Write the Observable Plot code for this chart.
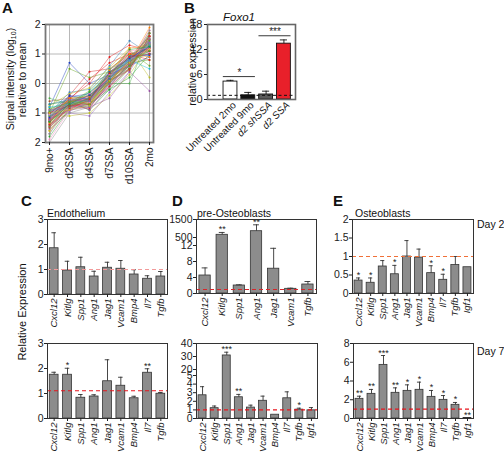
<!DOCTYPE html>
<html><head><meta charset="utf-8">
<script src="https://cdn.jsdelivr.net/npm/d3@7"></script>
<script src="https://cdn.jsdelivr.net/npm/@observablehq/plot@0.6"></script>
<style>
body{margin:0;background:#fff;}
#root{position:relative;width:504px;height:456px;overflow:hidden;background:#fff;}
#root svg{position:absolute;left:0;top:0;}
</style></head><body><div id="root"></div>
<script>
const W = 504, H = 456;
const FONT = '"Liberation Sans", Arial, Helvetica, sans-serif';
const root = document.getElementById("root");

// ---------- Panel A data ----------
const aConditions = ["9mo+", "d2SSA", "d4SSA", "d7SSA", "d10SSA", "2mo"];
const aProfiles = [
  [-1.0,-0.6,-0.5,0.2,0.7,1.2], [-1.2,-0.7,-0.6,0.1,0.8,1.3], [-0.9,-0.5,-0.4,0.3,0.9,1.1],
  [-1.5,-0.8,-0.7,0.0,0.6,1.4], [-1.3,-0.7,-0.5,0.3,1.0,1.2], [-1.1,-0.6,-0.3,0.4,0.8,1.0],
  [-0.6,-0.5,-0.6,0.1,0.5,1.5], [-1.9,-0.9,-0.7,-0.1,0.7,1.8], [-1.7,-0.8,-0.6,0.2,0.9,1.6],
  [-0.8,0.7,0.0,0.3,0.6,0.9], [-1.0,0.5,0.2,0.4,0.7,0.8], [-1.2,-0.4,0.4,0.5,1.0,1.1],
  [-1.4,-1.0,-1.1,-0.3,0.4,1.5], [-1.1,-1.1,-1.0,-0.4,0.3,1.3], [-0.7,-0.6,-0.9,-0.2,0.2,1.0],
  [-1.3,-0.5,0.0,0.9,1.3,1.1], [-1.0,-0.3,-0.2,0.6,1.45,1.0], [-1.2,-0.6,-0.4,0.0,0.0,1.7],
  [-0.9,-0.7,-0.8,-0.5,0.4,-0.25], [-1.6,-0.9,-0.5,0.2,0.7,1.9], [-1.05,-0.65,-0.55,0.15,0.75,1.25],
  [-1.25,-0.75,-0.65,0.05,0.65,1.35], [-0.95,-0.55,-0.45,0.25,0.85,1.15], [-1.35,-0.85,-0.75,-0.05,0.55,1.45],
  [-1.15,-0.45,-0.35,0.35,0.95,0.95], [-0.85,-0.65,-0.25,0.45,1.1,0.6], [-1.45,-0.75,-0.85,0.1,0.8,1.6],
  [-1.55,-0.95,-0.6,0.3,0.6,1.3], [-0.75,-0.35,-0.15,0.55,1.2,0.2], [-1.8,-0.85,-0.7,-0.2,0.5,1.7],
  [-1.0,-0.55,0.15,0.7,1.0,0.8], [-1.1,-0.8,-0.45,0.2,0.9,1.4], [-0.5,-0.7,-0.6,0.0,0.6,1.2],
  [-1.3,-0.6,-0.9,-0.1,0.7,1.5], [-1.2,-0.5,-0.7,0.3,1.2,1.3], [-0.95,-0.75,-0.5,0.5,0.8,0.5],
  [-1.4,-0.65,-0.4,0.1,0.45,1.6], [-1.15,-0.9,-0.35,0.25,1.05,1.05], [-2.0,-1.0,-0.8,0.0,0.6,1.8],
  [-1.05,-0.4,-0.55,0.4,0.85,1.25],
  [-1.1,-0.7,-0.7,0.2,0.6,1.3], [-1.25,-0.6,-0.55,0.25,0.9,1.2], [-0.9,-0.8,-0.6,0.1,0.7,1.4],
  [-1.6,-0.7,-0.65,0.05,0.8,1.5], [-1.3,-0.8,-0.5,0.35,0.75,1.1], [-1.0,-0.75,-0.7,-0.1,0.5,1.6],
  [-0.7,-0.55,-0.5,0.3,0.9,1.0], [-1.45,-0.6,-0.6,0.15,0.95,1.35], [-1.2,-0.9,-0.8,0.0,0.65,1.5],
  [-1.35,-0.5,-0.45,0.45,1.0,0.9], [-0.8,-0.7,-0.55,0.2,0.8,1.3], [-1.5,-0.75,-0.5,0.1,0.7,1.7],
  [-1.05,-0.85,-0.65,0.3,1.1,1.2], [-1.7,-0.6,-0.75,-0.15,0.55,1.55], [-1.15,-0.7,-0.4,0.15,0.85,1.25],
  [-0.95,-0.6,-0.7,0.05,0.6,1.45], [-1.4,-0.85,-0.55,0.35,0.9,1.0], [-1.25,-0.55,-0.6,0.2,0.75,1.35],
  [-1.0,-0.9,-0.75,0.1,0.7,1.15], [-1.3,-0.7,-0.3,0.25,1.15,1.25]
];
const aTicks = [-2, -1, 0, 1, 2];

// ---------- Panel B data ----------
const bLabels = ["Untreated 2mo", "Untreated 9mo", "d2 shSSA", "d2 SSA"];
const bValues = [4.3, 1.0, 1.2, 13.4];
const bErrors = [0.3, 0.7, 0.8, 0.9];
const bSigFrom = [0, 2];
const bSigTo = [1, 3];
const bSigLevel = [5.5, 15.3];
const bSigText = ["*", "***"];
const bRef = 1.0;
const bTicks = [0, 6, 12, 18];

// ---------- Panel C data ----------
const cGenes = ["Cxcl12","Kitlg","Spp1","Ang1","Jag1","Vcam1","Bmp4","Il7","Tgfb"];
const cDay2 = [1.85,0.96,1.09,0.72,1.07,1.03,0.8,0.63,0.72];
const cDay2Err = [0.62,0.37,0.4,0.21,0.22,0.33,0.19,0.12,0.2];
const cDay2Sig = ["","","","","","","","",""];
const cDay2Ref = 1.0;
const cDay7 = [1.75,1.75,0.83,0.88,1.49,1.31,0.81,1.83,0.99];
const cDay7Err = [0.1,0.26,0.13,0.07,0.86,0.34,0.08,0.16,0.05];
const cDay7Sig = ["","*","","","","","","**",""];
const cDay7Ref = 1.11;
const cTicks = [0, 1, 2, 3];

// ---------- Panel D data ----------
const dGenes2 = ["Cxcl12","Kitlg","Spp1","Ang1","Jag1","Vcam1","Tgfb"];
const dDay2 = [4.5, 650, 2.0, 850, 6.2, 1.17, 2.25];
const dDay2Err = [1.9, 130, 0.17, 355, 5.1, 0.16, 0.75];
const dDay2Sig = ["","**","","**","","",""];
const dDay2Ref = 1.0;
const dDay2Ticks = [0, 4, 8, 12, 500, 1500];
const dGenes7 = ["Cxcl12","Kitlg","Spp1","Ang1","Jag1","Vcam1","Bmp4","Il7","Tgfb","Igf1"];
const dDay7 = [2.7, 1.2, 30.8, 2.47, 1.27, 2.06, 0.44, 2.35, 1.03, 0.95];
const dDay7Err = [1.0, 0.25, 2.5, 0.33, 0.28, 0.54, 0, 0.75, 0.17, 0.32];
const dDay7Sig = ["","","***","**","","","","","*",""];
const dDay7Ref = 1.0;
const dDay7Ticks = [0, 1, 2, 3, 4, 5, 20, 30, 40];

// ---------- Panel E data ----------
const eGenes = ["Cxcl12","Kitlg","Spp1","Ang1","Jag1","Vcam1","Bmp4","Il7","Tgfb","Igf1"];
const eDay2 = [0.35,0.29,0.73,0.52,1.0,0.97,0.55,0.37,0.77,0.71];
const eDay2Err = [0.07,0.13,0.16,0.24,0.43,0.23,0.2,0.15,0.23,0];
const eDay2Sig = ["*","*","","*","","","*","*","",""];
const eDay2Ref = 1.0;
const eDay2Ticks = [0, 0.5, 1.0, 1.5, 2.0];
const eDay7 = [2.1,2.63,5.72,2.74,2.95,3.06,2.31,1.99,1.46,0.05];
const eDay7Err = [0.28,0.47,1.0,0.53,0.64,0.82,0.68,0.46,0.25,0];
const eDay7Sig = ["**","**","***","**","*","*","*","*","*","**"];
const eDay7Ref = 1.0;
const eDay7Ticks = [0, 2, 4, 6, 8];

// ---------- styles ----------
const aPalette = ["#e41a1c","#377eb8","#4daf4a","#984ea3","#ff7f00","#17becf","#a65628",
  "#f781bf","#8a8a8a","#1f3fbf","#66a61e","#d62728","#9467bd","#bcbd22","#2ca02c"];
const bFills = ["#ffffff", "#111111", "#5a5a5a", "#e8202a"];

function place(frame, opts) {
  const [x0, y0, x1, y1] = frame;
  const svg = Plot.plot({
    width: W, height: H,
    marginLeft: x0, marginRight: W - x1, marginTop: y0, marginBottom: H - y1,
    style: {background: "transparent", fontFamily: FONT, fontSize: "10px", color: "#222", overflow: "visible"},
    ...opts
  });
  svg.style.position = "absolute"; svg.style.left = "0px"; svg.style.top = "0px";
  root.appendChild(svg);
}

// ---------- Panel A ----------
const aRows = aProfiles.flatMap((p, k) => p.map((v, j) => ({id: k, c: aConditions[j], v})));
place([45, 24, 153, 142], {
  x: {type: "point", domain: aConditions, padding: 0.12, label: null},
  y: {domain: [-2, 2], label: null},
  color: {type: "identity"},
  marks: [
    Plot.gridX(aConditions, {stroke: "#9a9a9a", strokeOpacity: 0.7}),
    Plot.gridY([-1, 0, 1], {stroke: "#9a9a9a", strokeOpacity: 0.7}),
    Plot.line(aRows, {x: "c", y: "v", z: "id", stroke: d => aPalette[d.id % aPalette.length], strokeWidth: 0.6, strokeOpacity: 0.75}),
    Plot.dot(aRows, {x: "c", y: "v", r: 1, fill: d => aPalette[d.id % aPalette.length], stroke: "none"}),
    Plot.frame({stroke: "#777", strokeWidth: 1.8}),
    Plot.axisY({ticks: aTicks, tickFormat: d => String(Math.abs(d)), tickSize: 3, tickPadding: 2, label: null, fontSize: 10.5}),
    Plot.axisX({tickRotate: -90, tickSize: 3, tickPadding: 2, label: null, fontSize: 10})
  ]
});

// ---------- Panel B ----------
const bRows = bLabels.map((g, i) => ({i, g, v: bValues[i], e: bErrors[i]}));
const bSig = bSigText.map((t, k) => ({from: bSigFrom[k], to: bSigTo[k], y: bSigLevel[k], t}));
place([207, 24, 295, 99], {
  x: {domain: [-1.29, 3.65], label: null, axis: null},
  y: {domain: [0, 18], label: null},
  color: {type: "identity"},
  marks: [
    Plot.rectY(bRows, {x1: d => d.i - 0.39, x2: d => d.i + 0.39, y1: d => 0, y2: "v", fill: d => bFills[d.i], stroke: "#111", strokeWidth: 0.9}),
    Plot.ruleX(bRows, {x: "i", y1: "v", y2: d => d.v + d.e, stroke: "#111", strokeWidth: 0.9}),
    Plot.ruleY(bRows, {x1: d => d.i - 0.2, x2: d => d.i + 0.2, y: d => d.v + d.e, stroke: "#111", strokeWidth: 0.9}),
    Plot.ruleY([bRef], {stroke: "#111", strokeDasharray: "3,2.5", strokeWidth: 1}),
    Plot.ruleY(bSig, {x1: d => d.from - 0.4, x2: d => d.to + 0.4, y: "y", stroke: "#222", strokeWidth: 0.9}),
    Plot.text(bSig, {x: d => (d.from + d.to) / 2, y: "y", text: "t", dy: -1, lineAnchor: "bottom", fontSize: 10}),
    Plot.frame({stroke: "#666", strokeWidth: 1.6}),
    Plot.axisY({ticks: bTicks, tickSize: 3, tickPadding: 2, label: null, fontSize: 11}),
    Plot.text(bLabels, {x: (d, i) => i, frameAnchor: "bottom", rotate: -45, textAnchor: "end", lineAnchor: "middle", dy: 4, dx: 4, fontSize: 10, filter: (d, i) => i < 2}),
    Plot.text(bLabels, {x: (d, i) => i, frameAnchor: "bottom", rotate: -45, textAnchor: "end", lineAnchor: "middle", dy: 4, dx: 4, fontSize: 10, fontStyle: "italic", filter: (d, i) => i >= 2})
  ]
});

// ---------- bar panels C-E ----------
function barPanel({frame, genes, values, errs, sigs, ymap = v => v, yDomain, yTicks, refY, refColor}) {
  const n = genes.length;
  const rows = genes.map((g, i) => ({i, g, v: values[i], e: errs[i], s: sigs[i]}));
  const withErr = rows.filter(d => d.e > 0);
  const hw = 0.33, cw = 0.17;
  const tickMap = new Map(yTicks.map(t => [ymap(t), String(t)]));
  place(frame, {
    x: {domain: [-0.5, n - 0.5], label: null},
    y: {domain: yDomain, label: null},
    marks: [
      Plot.rectY(rows, {x1: d => d.i - hw, x2: d => d.i + hw, y1: d => 0, y2: d => ymap(d.v), fill: "#8c8c8c", stroke: "#333", strokeWidth: 0.8}),
      Plot.ruleX(withErr, {x: "i", y1: d => ymap(d.v), y2: d => ymap(d.v + d.e), stroke: "#333", strokeWidth: 0.9}),
      Plot.ruleY(withErr, {x1: d => d.i - cw, x2: d => d.i + cw, y: d => ymap(d.v + d.e), stroke: "#333", strokeWidth: 0.9}),
      Plot.ruleY([refY], {y: d => ymap(d), stroke: refColor, strokeDasharray: "4,3", strokeWidth: 1.2}),
      Plot.text(rows.filter(d => d.s), {x: "i", y: d => ymap(d.v + d.e), text: "s", dy: 0, lineAnchor: "bottom", fontSize: 9}),
      Plot.frame({stroke: "#333", strokeWidth: 1}),
      Plot.axisY({ticks: [...tickMap.keys()], tickFormat: d => tickMap.get(d), tickSize: 3, tickPadding: 1, label: null, fontSize: 10.5}),
      Plot.axisX({ticks: d3.range(n), tickFormat: () => "", tickSize: 3, label: null}),
      Plot.text(genes, {x: (d, i) => i, frameAnchor: "bottom", rotate: -90, textAnchor: "end", lineAnchor: "middle", dy: 4, fontStyle: "italic", fontSize: 9.5})
    ]
  });
}

barPanel({frame: [47, 219, 167, 294], genes: cGenes, values: cDay2, errs: cDay2Err, sigs: cDay2Sig,
  yDomain: [0, 3], yTicks: cTicks, refY: cDay2Ref, refColor: "#f29a9a"});
barPanel({frame: [47, 343, 167, 418], genes: cGenes, values: cDay7, errs: cDay7Err, sigs: cDay7Sig,
  yDomain: [0, 3], yTicks: cTicks, refY: cDay7Ref, refColor: "#e8141c"});

const brkD2 = v => v <= 12 ? v : 14 + (v - 500) * 0.0045;
barPanel({frame: [196, 219, 316, 293], genes: dGenes2, values: dDay2, errs: dDay2Err, sigs: dDay2Sig,
  ymap: brkD2, yDomain: [0, 18.5], yTicks: dDay2Ticks, refY: dDay2Ref, refColor: "#d8262a"});
const brkD7 = v => v <= 5 ? v * 8.6 : 49 + (v - 20) * 1.3;
barPanel({frame: [196, 343, 317, 418], genes: dGenes7, values: dDay7, errs: dDay7Err, sigs: dDay7Sig,
  ymap: brkD7, yDomain: [0, 75], yTicks: dDay7Ticks, refY: dDay7Ref, refColor: "#e8141c"});

barPanel({frame: [352, 219, 473, 293], genes: eGenes, values: eDay2, errs: eDay2Err, sigs: eDay2Sig,
  yDomain: [0, 2], yTicks: eDay2Ticks, refY: eDay2Ref, refColor: "#f07038"});
barPanel({frame: [353, 343, 473, 418], genes: eGenes, values: eDay7, errs: eDay7Err, sigs: eDay7Sig,
  yDomain: [0, 8], yTicks: eDay7Ticks, refY: eDay7Ref, refColor: "#e8141c"});

// ---------- annotations ----------
const ann = d3.select(root).append("svg").attr("width", W).attr("height", H)
  .style("font-family", FONT).style("position", "absolute").style("left", "0px").style("top", "0px");
const labels = [
  {t: "A", x: 2, y: 13, s: 15, w: "bold"},
  {t: "B", x: 184, y: 13, s: 15, w: "bold"},
  {t: "C", x: 21, y: 206, s: 15, w: "bold"},
  {t: "D", x: 172, y: 206, s: 15, w: "bold"},
  {t: "E", x: 333, y: 206, s: 15, w: "bold"},
  {t: "Endothelium", x: 47, y: 217, s: 10.5},
  {t: "pre-Osteoblasts", x: 197, y: 217, s: 10.5},
  {t: "Osteoblasts", x: 355, y: 217, s: 10.5},
  {t: "Day 2", x: 477, y: 228, s: 10.5},
  {t: "Day 7", x: 477, y: 355, s: 10.5},
  {t: "Foxo1", x: 223, y: 21, s: 11.5, st: "italic"}
];
ann.selectAll("text.l").data(labels).join("text").attr("class", "l")
  .attr("x", d => d.x).attr("y", d => d.y).attr("font-size", d => d.s)
  .attr("font-weight", d => d.w || "normal").attr("font-style", d => d.st || "normal")
  .attr("fill", "#111").text(d => d.t);

function vlabel(x, y, size, parts) {
  const t = ann.append("text").attr("transform", `translate(${x},${y}) rotate(-90)`)
    .attr("text-anchor", "middle").attr("font-size", size).attr("fill", "#111");
  parts.forEach(p => {
    const ts = t.append("tspan").text(p.t);
    if (p.dy) ts.attr("dy", p.dy);
    if (p.s) ts.attr("font-size", p.s);
  });
}
vlabel(14, 79, 10.5, [{t: "Signal intensity (log"}, {t: "10", s: 7, dy: 2}, {t: ")", dy: -2}]);
vlabel(26, 80, 10.5, [{t: "relative to mean"}]);
vlabel(196, 62, 10.5, [{t: "relative expression"}]);
vlabel(26, 312, 11, [{t: "Relative Expression"}]);
</script></body></html>
